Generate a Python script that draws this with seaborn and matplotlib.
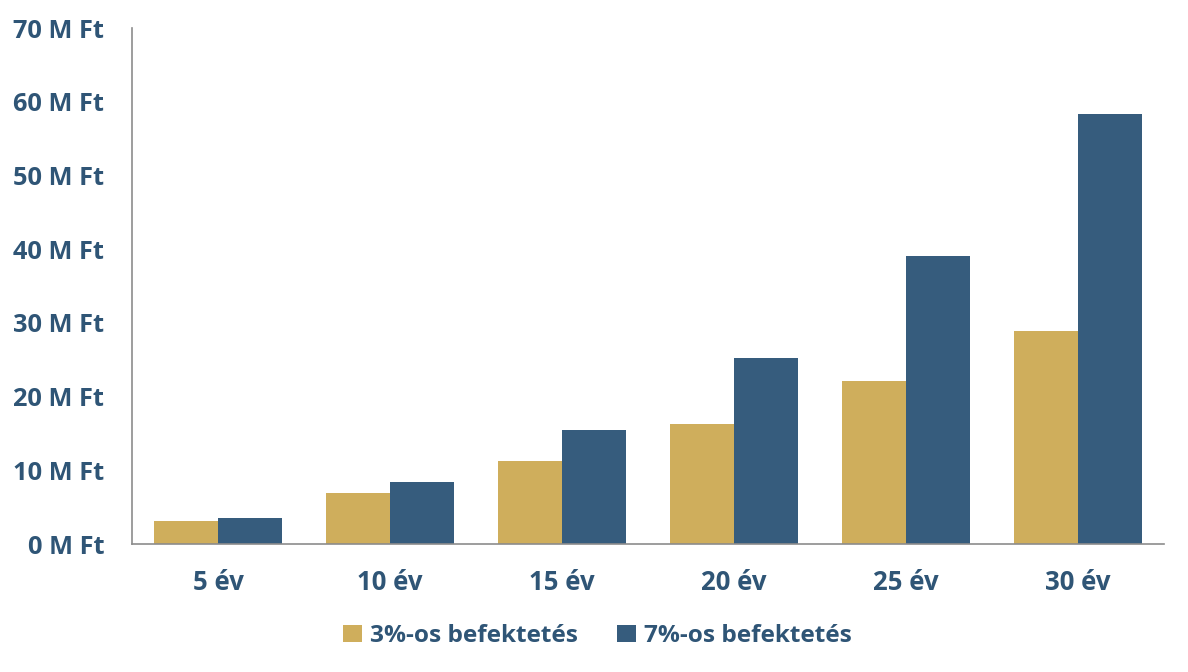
import numpy as np
import pandas as pd
import seaborn as sns
import matplotlib.pyplot as plt

# Data (millions of Ft)
years = ['5 év', '10 év', '15 év', '20 év', '25 év', '30 év']
series_names = ['3%-os befektetés', '7%-os befektetés']
values_3 = [3.1, 6.9, 11.3, 16.3, 22.1, 28.9]
values_7 = [3.5, 8.4, 15.5, 25.2, 39.1, 58.3]
y_ticks = [0, 10, 20, 30, 40, 50, 60, 70]

df = pd.DataFrame({
    'Év': years * 2,
    'Sorozat': [series_names[0]] * len(years) + [series_names[1]] * len(years),
    'Érték': values_3 + values_7,
})

sns.set_theme(style='white')
plt.rcParams['font.family'] = ['Open Sans', 'DejaVu Sans']
plt.rcParams['font.weight'] = 'bold'

text_color = '#2F5576'
palette = {series_names[0]: '#CFAE5C', series_names[1]: '#365C7D'}

fig = plt.figure(figsize=(11.88, 6.72), dpi=100)
ax = fig.add_axes([132 / 1188, 1 - 544 / 672, (1164 - 132) / 1188, (544 - 28) / 672])

sns.barplot(data=df, x='Év', y='Érték', hue='Sorozat', palette=palette,
            width=0.744, gap=0, saturation=1, linewidth=0, ax=ax)

ax.set_ylim(0, 70)
ax.set_xlim(-0.5, len(years) - 0.5)
ax.set_yticks(y_ticks)
ax.set_yticklabels([f'{v} M Ft' for v in y_ticks])
ax.set_xlabel('')
ax.set_ylabel('')

for s in ['top', 'right']:
    ax.spines[s].set_visible(False)
for s in ['left', 'bottom']:
    ax.spines[s].set_color('#8C8C8C')
    ax.spines[s].set_linewidth(1.2)

ax.tick_params(axis='y', length=0, pad=20, labelsize=18.3, labelcolor=text_color)
ax.tick_params(axis='x', length=0, pad=18, labelsize=18.5, labelcolor=text_color)
for lbl in ax.get_xticklabels() + ax.get_yticklabels():
    lbl.set_fontweight('bold')

# legend centred on the figure, below the category labels
handles, labels = ax.get_legend_handles_labels()
ax.get_legend().remove()
leg = fig.legend(handles, labels, loc='center', bbox_to_anchor=(0.503, 1 - 636 / 672),
                 ncol=2, frameon=False, fontsize=17.6, handlelength=0.75, handleheight=0.75,
                 handletextpad=0.35, columnspacing=1.6)
for t in leg.get_texts():
    t.set_color(text_color)
    t.set_fontweight('bold')

fig.savefig('out.png', dpi=100)
